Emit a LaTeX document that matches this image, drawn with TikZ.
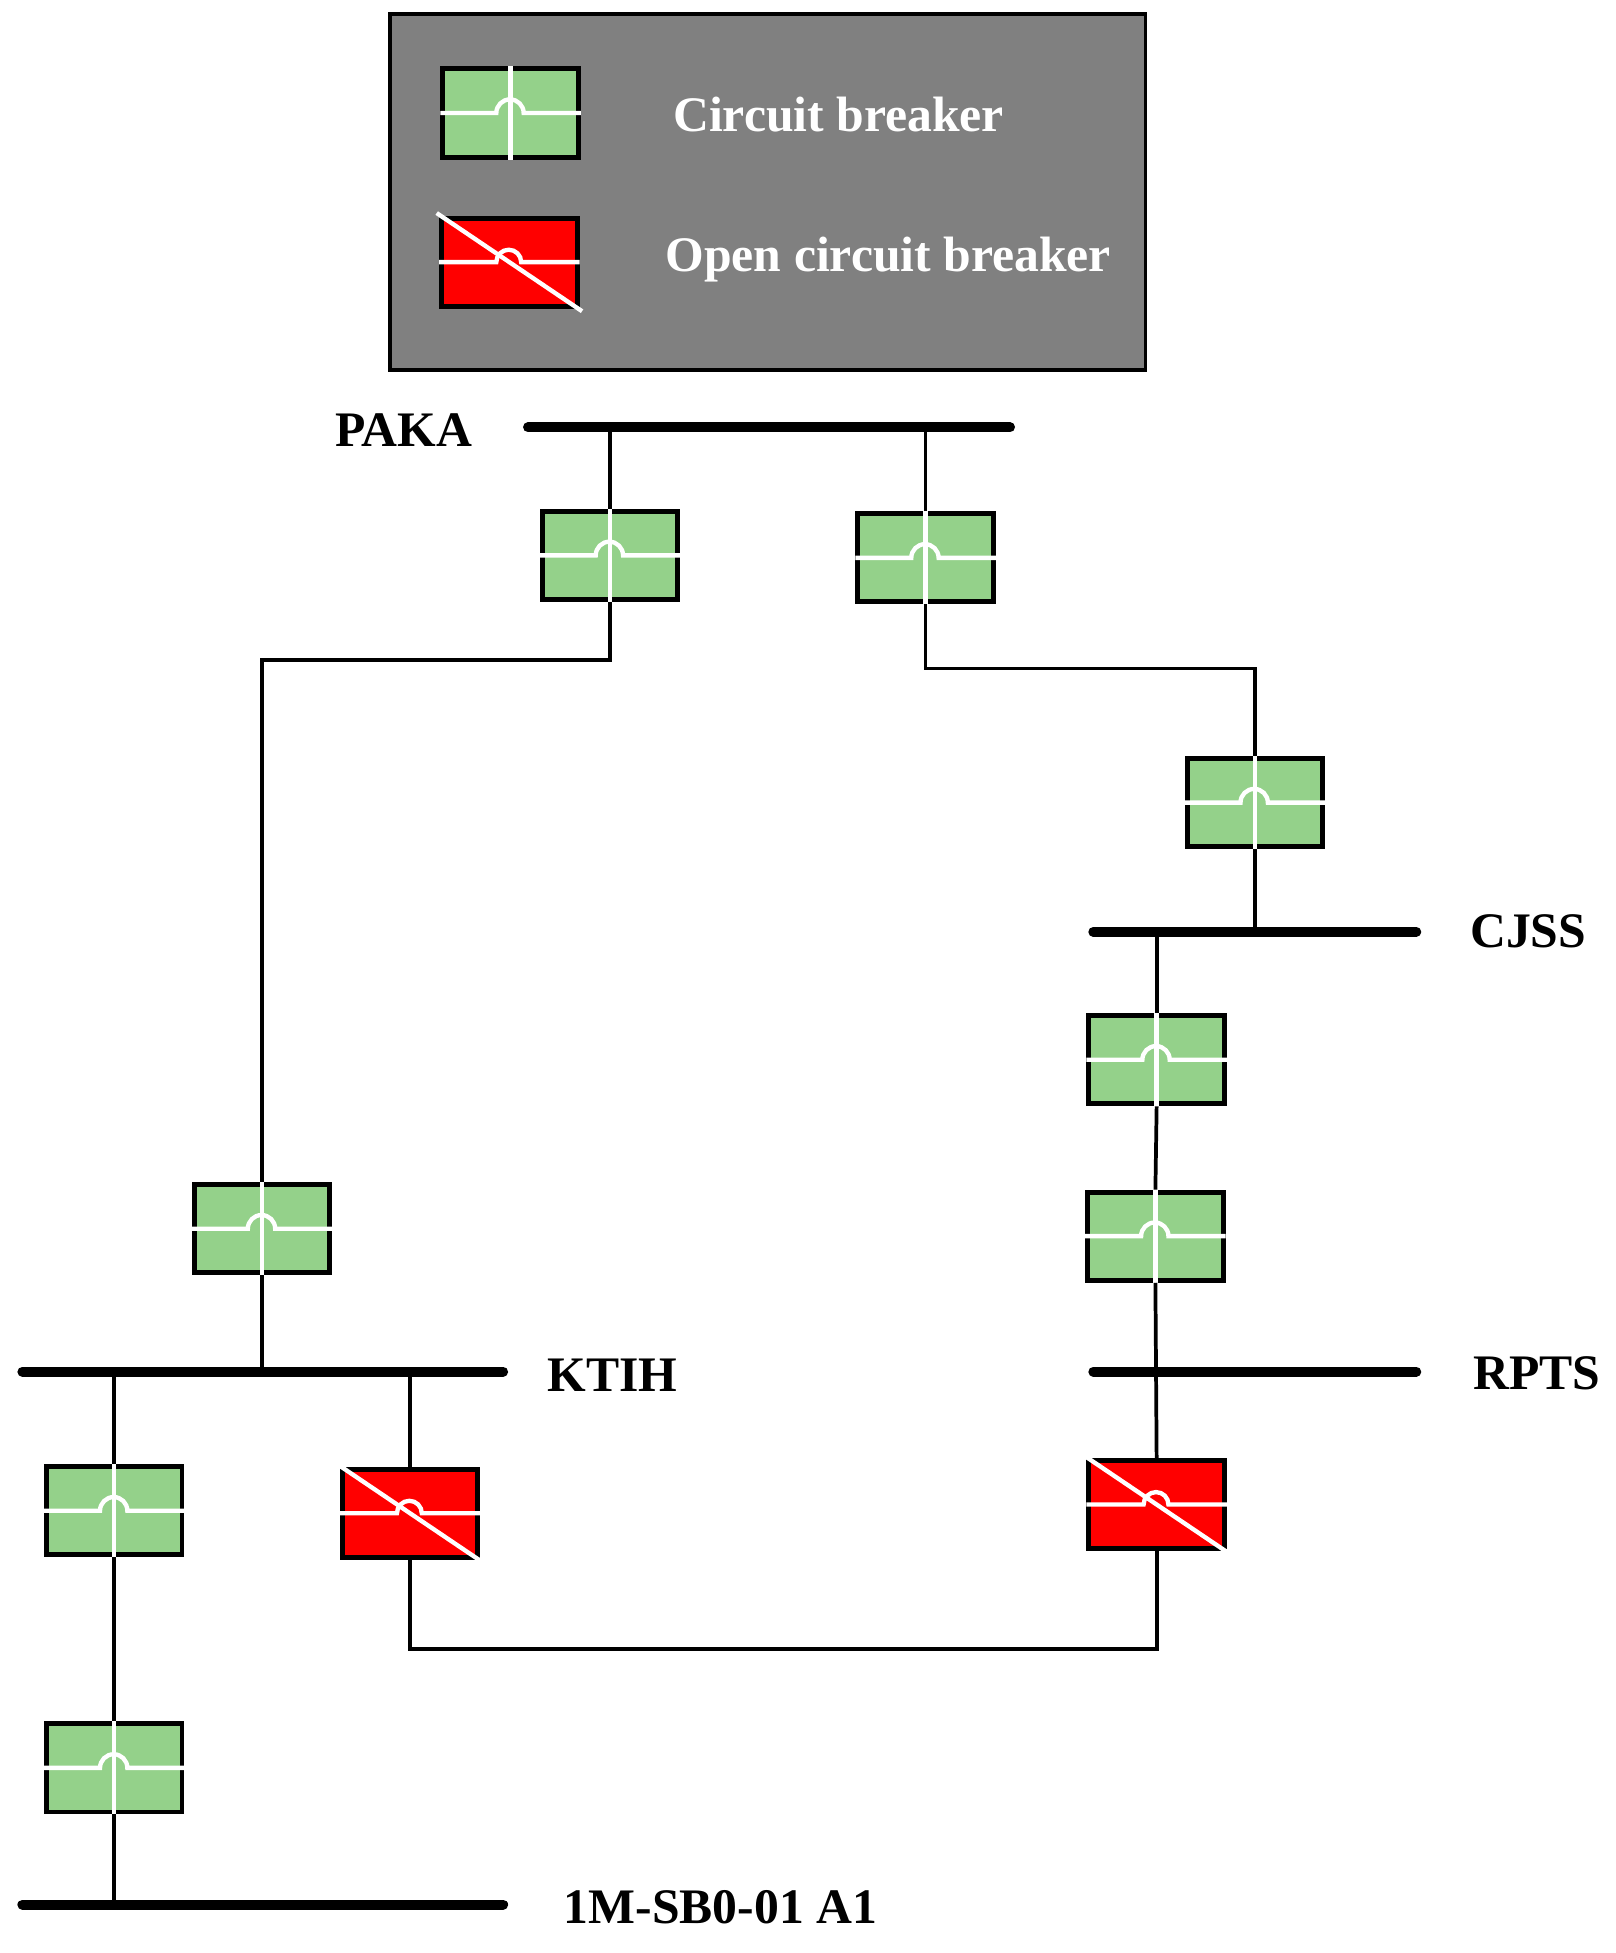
\documentclass[tikz,border=0pt]{standalone}
\usepackage{fontspec}
\setmainfont{Liberation Serif}
\begin{document}
\begin{tikzpicture}[x=1pt,y=-1pt,
  brk/.style={draw=black,line width=4pt,minimum width=109pt,minimum height=71pt,inner sep=0pt},
  wl/.style={draw=white,line width=3.5pt},
  con/.style={line width=3pt},
  bus/.style={line width=8pt,line cap=round},
  lbl/.style={font=\bfseries\fontsize{40}{40}\selectfont},
  leg/.style={font=\bfseries\fontsize{40}{40}\selectfont,text=white}]
\useasboundingbox (0,0) rectangle (1300,1572);
\definecolor{cbg}{HTML}{94D18A}
\newcommand\cbk[3]{%
  \node[brk,fill=cbg] (#1) at (#2,#3) {};
  \draw[wl] (#1.west) -- ++(45,0) arc[start angle=180,end angle=0,radius=11pt] -- (#1.east);
  \draw[wl] (#1.north) -- (#1.south);}
\newcommand\obk[3]{%
  \node[brk,fill=red] (#1) at (#2,#3) {};
  \draw[wl] (#1.west) -- ++(46,0) arc[start angle=180,end angle=0,radius=10pt] -- (#1.east);
  \draw[wl] ([shift={(-2,-2)}]#1.north west) -- ([shift={(2,2)}]#1.south east);}
% legend
\node[draw=black,line width=3pt,fill=gray,minimum width=608pt,minimum height=287pt,inner sep=0pt] (legend) at (618,154.5) {};
\cbk{L1}{411}{91}
\obk{L2}{410}{211}
\node[leg] (t1) at (675,92) {Circuit breaker};
\node[leg] (t2) at (715,209) {Open circuit breaker};
% buses
\coordinate (pakaL) at (425,344); \coordinate (pakaR) at (813,344);
\coordinate (cjssL) at (880,750); \coordinate (cjssR) at (1140,750);
\coordinate (rptsL) at (880,1104); \coordinate (rptsR) at (1140,1104);
\coordinate (ktihL) at (18,1104); \coordinate (ktihR) at (405,1104);
\coordinate (smL) at (18,1533); \coordinate (smR) at (405,1533);
\draw[bus] (pakaL) -- (pakaR);
\draw[bus] (cjssL) -- (cjssR);
\draw[bus] (rptsL) -- (rptsR);
\draw[bus] (ktihL) -- (ktihR);
\draw[bus] (smL) -- (smR);
\node[lbl] (lpaka) at (325,346) {PAKA};
\node[lbl] (lcjss) at (1230,750) {CJSS};
\node[lbl] (lrpts) at (1237,1105) {RPTS};
\node[lbl] (lktih) at (493,1107) {KTIH};
\node[lbl] (lsm) at (580,1535) {1M-SB0-01 A1};
% breakers
\cbk{B1}{491}{447}
\cbk{B2}{745}{449}
\cbk{B3}{1010}{646}
\cbk{B4}{931}{853}
\cbk{B6}{930}{995}
\cbk{B5}{211}{989}
\cbk{B7}{92}{1216}
\cbk{B8}{92}{1423}
\obk{R1}{330}{1218}
\obk{R2}{931}{1211}
% connectors
\draw[con] (B1.north) -- (B1.north |- pakaL);
\draw[con] (B2.north) -- (B2.north |- pakaL);
\draw[con] (B1.south) |- (211,531) -- (B5.north);
\draw[con] (B5.south) -- (B5.south |- ktihL);
\draw[con] (B2.south) |- (1010,538) -- (B3.north);
\draw[con] (B3.south) -- (B3.south |- cjssL);
\draw[con] (B4.north |- cjssL) -- (B4.north);
\draw[con] (B4.south) -- (B6.north);
\draw[con] (B6.south) -- (R2.north);
\draw[con] (R2.south) |- (330,1327) -- (R1.south);
\draw[con] (R1.north) -- (R1.north |- ktihL);
\draw[con] (B7.north |- ktihL) -- (B7.north);
\draw[con] (B7.south) -- (B8.north);
\draw[con] (B8.south) -- (B8.south |- smL);
\end{tikzpicture}
\end{document}
